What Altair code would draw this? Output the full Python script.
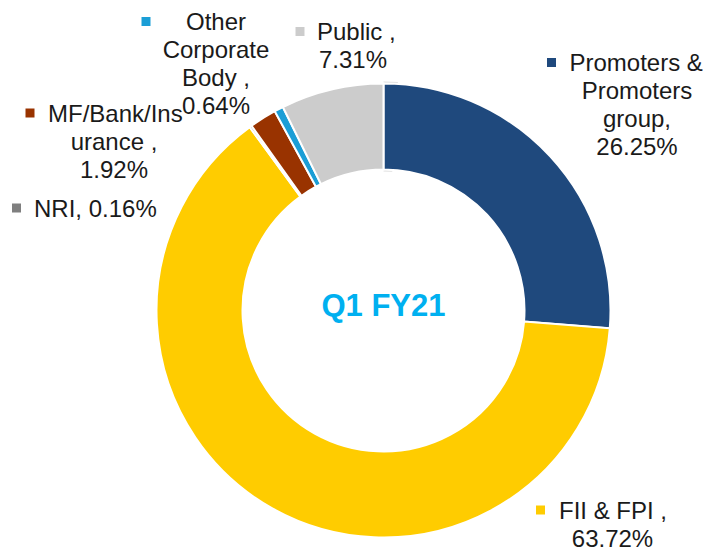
import altair as alt
import pandas as pd

# ---- data ----
categories = ["Promoters & Promoters group", "FII & FPI", "NRI",
              "MF/Bank/Insurance", "Other Corporate Body", "Public"]
values = [26.25, 63.72, 0.16, 1.92, 0.64, 7.31]
colors = ["#1F497D", "#FFCC00", "#7F7F7F", "#993300", "#1B9ED6", "#CCCCCC"]
label_heads = [["Promoters &", "Promoters", "group,"], ["FII & FPI ,"], ["NRI,"],
               ["MF/Bank/Ins", "urance ,"], ["Other", "Corporate", "Body ,"], ["Public ,"]]
value_inline = [False, False, True, False, False, False]
center_title = "Q1 FY21"

# ---- layout (page pixels) ----
M = 8  # page margin
CX, CY = 383.5, 310.5
R_OUT, R_IN = 227, 141
key_pos = [(551.5, 62.5), (540.5, 510), (16.5, 208), (30, 113), (146, 21.5), (300, 31.5)]
first_line = [(569.5, 71, "left"), (559, 519, "left"), (34, 217, "left"),
              (48, 122, "left"), (216, 29.5, "center"), (317, 40, "left")]
rest_x = [637, 612.5, 0, 114, 216, 353]
STEP = 28

df = pd.DataFrame({"category": categories, "value": values,
                   "idx": list(range(len(categories)))})

rows = []
keys = []
for i, cat in enumerate(categories):
    pct = f"{values[i]:.2f}%"
    lines = list(label_heads[i])
    if value_inline[i]:
        lines[-1] = lines[-1] + " " + pct
    else:
        lines.append(pct)
    fx, fy, fa = first_line[i]
    rows.append({"t": lines[0], "x": fx - M, "y": fy - M, "a": fa})
    for j, ln in enumerate(lines[1:], start=1):
        rows.append({"t": ln, "x": rest_x[i] - M, "y": fy + STEP * j - M, "a": "center"})
    keys.append({"category": cat, "x": key_pos[i][0] - M, "y": key_pos[i][1] - M})
lab = pd.DataFrame(rows)
keydf = pd.DataFrame(keys)

color_scale = alt.Scale(domain=categories, range=colors)

shadow = alt.Chart(pd.DataFrame({"v": [1]})).mark_arc(
    radius=R_OUT + 2, radius2=R_IN - 2, color="#DEDEDE"
).encode(theta=alt.Theta("v:Q"), x=alt.value(CX - M), y=alt.value(CY - M))

arcs = alt.Chart(df).mark_arc(
    radius=R_OUT, radius2=R_IN, stroke="white", strokeWidth=2
).encode(
    theta=alt.Theta("value:Q", stack=True),
    order=alt.Order("idx:Q"),
    color=alt.Color("category:N", scale=color_scale, legend=None),
    x=alt.value(CX - M), y=alt.value(CY - M),
)

key_marks = alt.Chart(keydf).mark_square(size=81, opacity=1).encode(
    x=alt.X("x:Q", scale=None), y=alt.Y("y:Q", scale=None),
    color=alt.Color("category:N", scale=color_scale, legend=None),
)

txt_common = dict(font="Liberation Sans", fontSize=24, color="#1A1A1A", baseline="alphabetic")
text_left = alt.Chart(lab).transform_filter(alt.datum.a == "left").mark_text(
    align="left", **txt_common
).encode(x=alt.X("x:Q", scale=None), y=alt.Y("y:Q", scale=None), text="t:N")
text_center = alt.Chart(lab).transform_filter(alt.datum.a == "center").mark_text(
    align="center", **txt_common
).encode(x=alt.X("x:Q", scale=None), y=alt.Y("y:Q", scale=None), text="t:N")

title = alt.Chart(pd.DataFrame({"t": [center_title]})).mark_text(
    font="Liberation Sans", fontSize=31, fontWeight="bold", color="#00B0F0",
    align="center", baseline="alphabetic"
).encode(text="t:N", x=alt.value(CX - M), y=alt.value(316 - M))

chart = alt.layer(shadow, arcs, key_marks, text_left, text_center, title).properties(
    width=695, height=541, padding=0, autosize=alt.AutoSizeParams(type="none"),
    background="white"
).configure_view(stroke=None)

chart.save("out.html", embed_options={"renderer": "svg", "actions": False})
